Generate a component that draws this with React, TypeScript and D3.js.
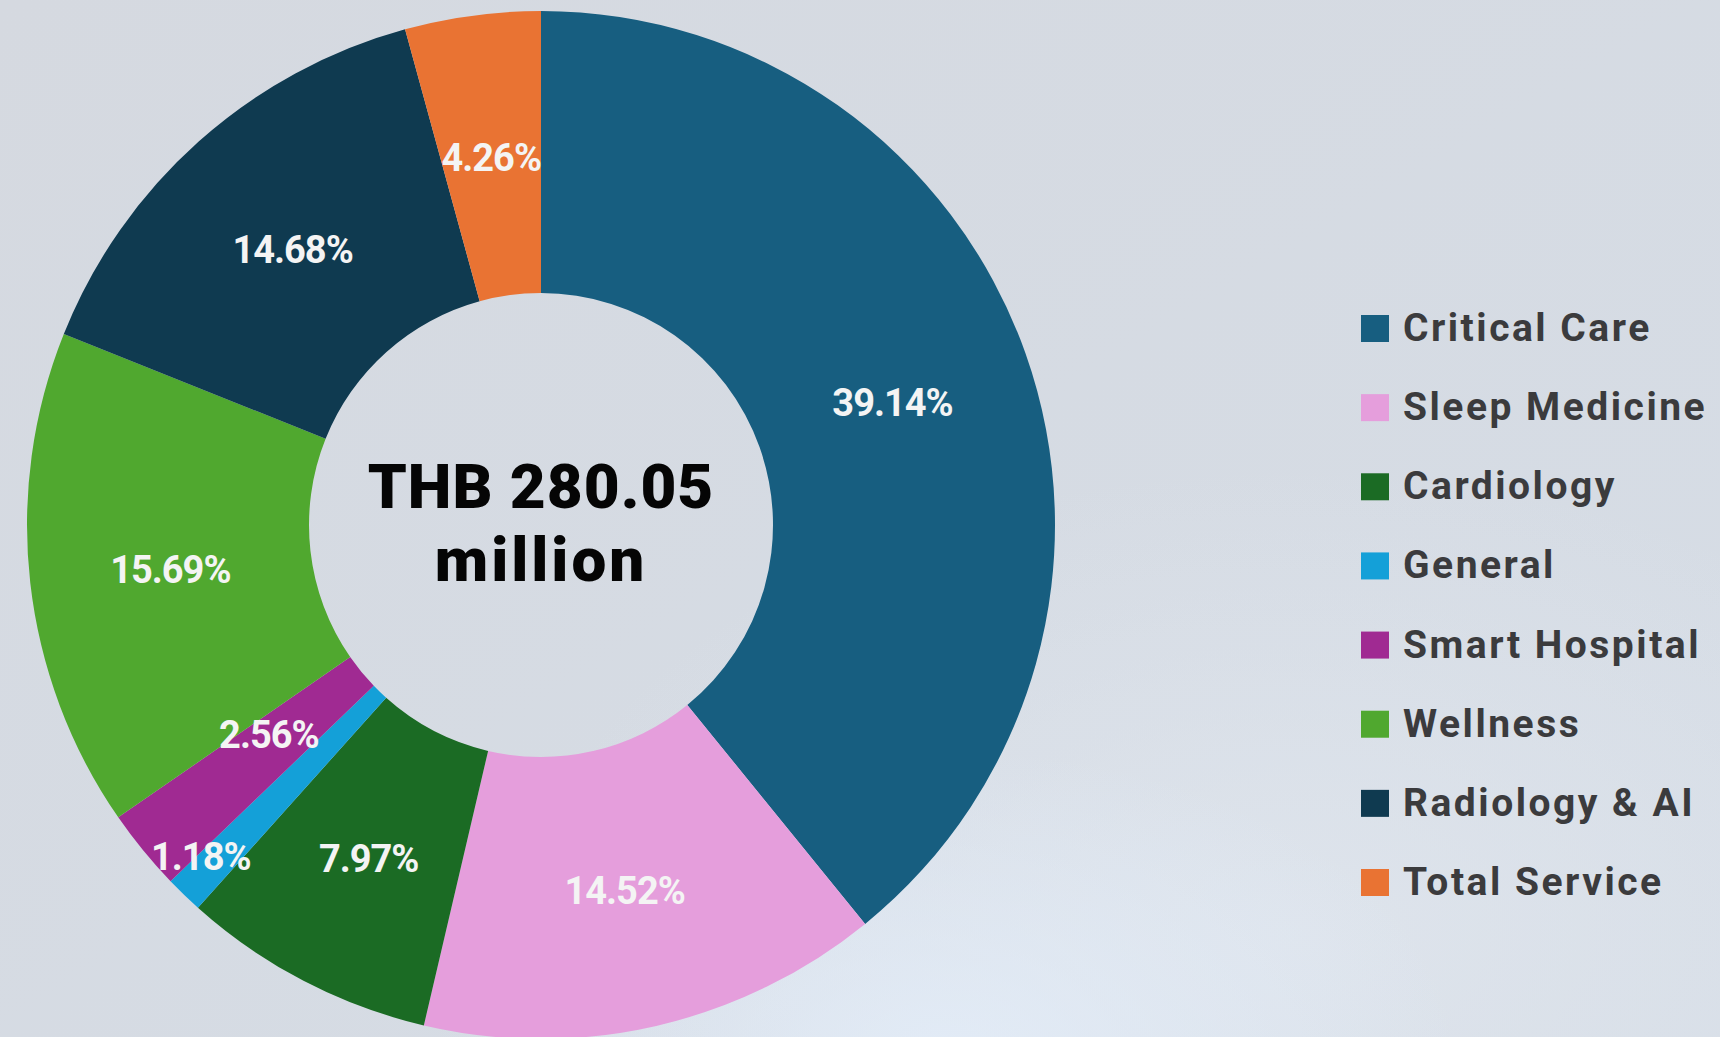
import React from "react";
import * as d3 from "d3";

const categories = [
  "Critical Care",
  "Sleep Medicine",
  "Cardiology",
  "General",
  "Smart Hospital",
  "Wellness",
  "Radiology & AI",
  "Total Service",
];
const shares = [39.14, 14.52, 7.97, 1.18, 2.56, 15.69, 14.68, 4.26];
const colors = [
  "#175e80",
  "#e59edc",
  "#1b6b24",
  "#14a0d8",
  "#a02a92",
  "#50a82f",
  "#0f3a50",
  "#e97333",
];
const centerLines = ["THB 280.05", "million"];

const W = 1720;
const H = 1037;

export default function App() {
  const cx = 541;
  const cy = 525;
  const R = 514;
  const r0 = 232;

  const pie = d3
    .pie<number>()
    .sort(null)
    .value((d) => d);
  const arcs = pie(shares);
  const arcGen = d3.arc<d3.PieArcDatum<number>>().innerRadius(r0).outerRadius(R);

  // label radius overrides for thin slices
  const labelR = (i: number) => {
    if (categories[i] === "General") return 473;
    if (categories[i] === "Smart Hospital") return 342;
    return (R + r0) / 2;
  };
  const labelAngleShift = (i: number) => {
    if (categories[i] === "General") return (2 * Math.PI) / 180;
    if (categories[i] === "Smart Hospital") return (2 * Math.PI) / 180;
    return 0;
  };

  const legendY = d3
    .scalePoint<string>()
    .domain(categories)
    .range([328, 882]);

  return (
    <div style={{ position: "fixed", left: 0, top: 0, width: W, height: H }}>
      <svg width={W} height={H} style={{ display: "block" }}>
        <defs>
          <radialGradient id="glow1" cx="0.55" cy="1.02" r="0.3">
            <stop offset="0" stopColor="#e4eefa" stopOpacity="0.8" />
            <stop offset="1" stopColor="#e4eefa" stopOpacity="0" />
          </radialGradient>
          <radialGradient id="glow2" cx="0.75" cy="0.9" r="0.45">
            <stop offset="0" stopColor="#e0e6ee" stopOpacity="0.8" />
            <stop offset="1" stopColor="#e0e6ee" stopOpacity="0" />
          </radialGradient>
          <linearGradient id="bg" x1="0" y1="0" x2="1" y2="1">
            <stop offset="0" stopColor="#d5d9e0" />
            <stop offset="1" stopColor="#d6dde6" />
          </linearGradient>
        </defs>
        <rect x={0} y={0} width={W} height={H} fill="url(#bg)" />
        <rect x={0} y={0} width={W} height={H} fill="url(#glow2)" />
        <rect x={0} y={0} width={W} height={H} fill="url(#glow1)" />

        <g transform={`translate(${cx},${cy})`}>
          {arcs.map((a, i) => (
            <path key={categories[i]} d={arcGen(a) || ""} fill={colors[i]} />
          ))}
          {arcs.map((a, i) => {
            const mid = (a.startAngle + a.endAngle) / 2 + labelAngleShift(i);
            const rr = labelR(i);
            const x = Math.sin(mid) * rr;
            const y = -Math.cos(mid) * rr + 3;
            return (
              <text
                key={"l" + i}
                x={x}
                y={y}
                textAnchor="middle"
                dominantBaseline="central"
                fill="#f4f4f4"
                fontFamily="Roboto, 'Open Sans', sans-serif"
                fontWeight={700}
                fontSize={38}
                letterSpacing={-1}
              >
                {shares[i].toFixed(2)}%
              </text>
            );
          })}
          <text
            x={0}
            y={-17}
            textAnchor="middle"
            fill="#050505"
            fontFamily="Roboto, 'Open Sans', sans-serif"
            fontWeight={900}
            fontSize={62}
            letterSpacing={1}
          >
            {centerLines[0]}
          </text>
          <text
            x={0}
            y={56}
            textAnchor="middle"
            fill="#050505"
            fontFamily="Roboto, 'Open Sans', sans-serif"
            fontWeight={900}
            fontSize={62}
            letterSpacing={3}
          >
            {centerLines[1]}
          </text>
        </g>

        <g>
          {categories.map((c, i) => {
            const y = legendY(c) as number;
            return (
              <g key={"lg" + c}>
                <rect x={1361} y={y - 13} width={28} height={27} fill={colors[i]} />
                <text
                  x={1403}
                  y={y}
                  dominantBaseline="central"
                  fill="#3b3b3d"
                  fontFamily="Roboto, 'Open Sans', sans-serif"
                  fontWeight={700}
                  fontSize={39}
                  letterSpacing={2.5}
                >
                  {c}
                </text>
              </g>
            );
          })}
        </g>
      </svg>
    </div>
  );
}
